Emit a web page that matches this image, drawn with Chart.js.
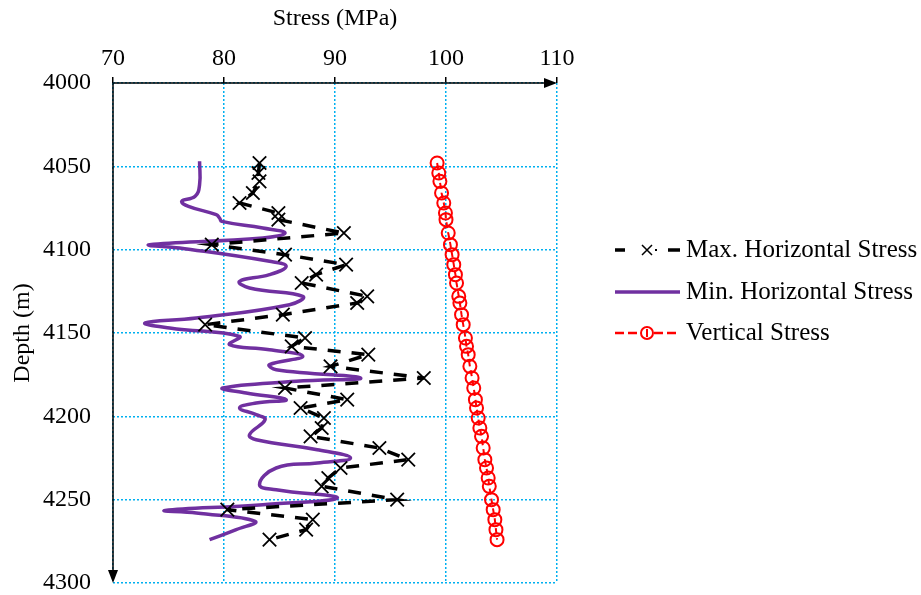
<!DOCTYPE html>
<html>
<head>
<meta charset="utf-8">
<script src="https://cdn.jsdelivr.net/npm/chart.js@4.4.0/dist/chart.umd.min.js"></script>
<style>
html, body { margin: 0; padding: 0; background: #fff; }
</style>
</head>
<body>
<canvas id="stressChart" width="921" height="595"></canvas>
<script>
// ========== DATOS ==========

// Max. horizontal stress (MPa) vs depth (m)
const maxDepth = [4048, 4054, 4059, 4066, 4072, 4078, 4082, 4090, 4097, 4103,
    4109, 4115, 4120, 4128, 4132, 4139, 4145, 4153, 4158, 4163,
    4170, 4177, 4183, 4190, 4195, 4201, 4207, 4212, 4219, 4226,
    4231, 4237, 4242, 4250, 4256, 4262, 4268, 4274];
const maxStress = [83.2, 83.1, 83.2, 82.6, 81.4, 84.9, 84.9, 90.8, 78.9, 85.5,
    91.0, 88.3, 87.0, 92.9, 92.0, 85.3, 78.3, 87.3, 86.1, 93.0,
    89.6, 98.0, 85.5, 91.1, 86.9, 89.0, 88.8, 87.8, 94.0, 96.6,
    90.5, 89.4, 88.8, 95.6, 80.3, 88.0, 87.4, 84.1];

// Min. horizontal stress (traza continua)
const minDepth = [4047, 4061, 4068, 4071, 4074, 4079, 4081, 4083, 4087, 4090,
    4093, 4097, 4099, 4107, 4110, 4115, 4119, 4123, 4128, 4133,
    4141, 4144, 4147, 4152, 4157, 4160, 4164, 4169, 4172, 4177,
    4179, 4183, 4186, 4190, 4192, 4195, 4199, 4202, 4211, 4214,
    4220, 4225, 4228, 4231, 4241, 4244, 4249, 4253, 4256.5, 4258,
    4263, 4268, 4274];
const minStress = [77.8, 77.8, 77.4, 76.2, 76.8, 79.3, 79.6, 79.8, 83.5, 85.5,
    83.5, 73.3, 76.0, 84.1, 85.6, 84.1, 81.4, 82.3, 87.1, 85.9,
    77.5, 72.9, 75.1, 81.4, 80.5, 84.1, 87.1, 84.1, 84.7, 92.3,
    86.5, 79.9, 82.0, 85.6, 82.9, 81.4, 82.9, 83.7, 82.3, 82.9,
    88.4, 91.4, 88.4, 84.7, 83.2, 84.7, 90.2, 83.5, 74.7, 77.5,
    82.8, 81.1, 78.7];

// Vertical stress
const vertDepth = maxDepth;
const vertStress = [99.2, 99.35, 99.45, 99.6, 99.8, 99.95, 100.0, 100.2, 100.4, 100.55,
    100.7, 100.85, 100.95, 101.15, 101.25, 101.4, 101.55, 101.75, 101.85, 102.0,
    102.15, 102.35, 102.5, 102.65, 102.75, 102.9, 103.05, 103.2, 103.35, 103.5,
    103.65, 103.8, 103.9, 104.1, 104.25, 104.4, 104.5, 104.6];

const seriesLabels = ['Max. Horizontal Stress', 'Min. Horizontal Stress', 'Vertical Stress'];

const FONT = 'Liberation Serif';
const GRID_COLOR = '#00B0F0';

function toPoints(xs, ys) {
    return xs.map((x, i) => ({ x: x, y: ys[i] }));
}

// Ejes con flechas
const axisArrows = {
    id: 'axisArrows',
    afterDraw(chart) {
        const ctx = chart.ctx;
        const a = chart.chartArea;
        ctx.save();
        ctx.strokeStyle = '#000';
        ctx.fillStyle = '#000';
        ctx.lineWidth = 1.5;
        ctx.beginPath();
        ctx.moveTo(a.left, a.top);
        ctx.lineTo(a.right - 4, a.top);
        ctx.moveTo(a.left, a.top);
        ctx.lineTo(a.left, a.bottom - 4);
        ctx.stroke();
        // punta derecha
        ctx.beginPath();
        ctx.moveTo(a.right, a.top);
        ctx.lineTo(a.right - 13, a.top - 5);
        ctx.lineTo(a.right - 13, a.top + 5);
        ctx.closePath();
        ctx.fill();
        // punta abajo
        ctx.beginPath();
        ctx.moveTo(a.left, a.bottom);
        ctx.lineTo(a.left - 5, a.bottom - 13);
        ctx.lineTo(a.left + 5, a.bottom - 13);
        ctx.closePath();
        ctx.fill();
        ctx.restore();
    }
};

// Leyenda dibujada a mano
const customLegend = {
    id: 'customLegend',
    afterDraw(chart) {
        const ctx = chart.ctx;
        const x0 = 615, x1 = 680, tx = 686;
        const rows = [250, 292, 333];
        ctx.save();

        // Max
        let y = rows[0];
        ctx.strokeStyle = '#000';
        ctx.lineWidth = 3.5;
        ctx.beginPath();
        ctx.moveTo(x0, y); ctx.lineTo(x0 + 10, y);
        ctx.moveTo(x1 - 12, y); ctx.lineTo(x1, y);
        ctx.stroke();
        ctx.lineWidth = 1.5;
        ctx.beginPath();
        ctx.moveTo(642, y - 5); ctx.lineTo(652, y + 5);
        ctx.moveTo(652, y - 5); ctx.lineTo(642, y + 5);
        ctx.stroke();
        ctx.fillStyle = '#000';
        ctx.fillRect(655, y - 1, 2, 2);

        // Min
        y = rows[1];
        ctx.strokeStyle = '#7030A0';
        ctx.lineWidth = 3.5;
        ctx.beginPath();
        ctx.moveTo(x0, y); ctx.lineTo(x1, y);
        ctx.stroke();

        // Vertical
        y = rows[2];
        ctx.strokeStyle = '#FF0000';
        ctx.lineWidth = 2.5;
        ctx.setLineDash([9, 4]);
        ctx.beginPath();
        ctx.moveTo(x0, y); ctx.lineTo(x1, y);
        ctx.stroke();
        ctx.setLineDash([]);
        ctx.lineWidth = 2;
        ctx.fillStyle = '#fff';
        ctx.beginPath();
        ctx.arc(647, y, 6, 0, Math.PI * 2);
        ctx.fill();
        ctx.stroke();
        ctx.fillStyle = '#FF0000';
        ctx.fillRect(646, y - 4, 2, 8);

        ctx.fillStyle = '#000';
        ctx.font = '25px "' + FONT + '"';
        ctx.textBaseline = 'middle';
        ctx.textAlign = 'left';
        seriesLabels.forEach((txt, i) => ctx.fillText(txt, tx, rows[i]));
        ctx.restore();
    }
};

const ctx = document.getElementById('stressChart').getContext('2d');

const stressChart = new Chart(ctx, {
    type: 'scatter',
    data: {
        datasets: [{
            label: seriesLabels[0],
            data: toPoints(maxStress, maxDepth),
            showLine: true,
            borderColor: '#000',
            borderWidth: 3.5,
            borderDash: [13, 11],
            pointStyle: 'crossRot',
            pointRadius: 9.5,
            pointBorderWidth: 1.8,
            pointBorderColor: '#000',
            pointBackgroundColor: '#000',
            tension: 0
        }, {
            label: seriesLabels[1],
            data: toPoints(minStress, minDepth),
            showLine: true,
            borderColor: '#7030A0',
            borderWidth: 3.5,
            pointRadius: 0,
            tension: 0.45
        }, {
            label: seriesLabels[2],
            data: toPoints(vertStress, vertDepth),
            showLine: true,
            borderColor: '#FF0000',
            borderWidth: 2,
            borderDash: [6, 4],
            pointStyle: 'circle',
            pointRadius: 6.5,
            pointBorderWidth: 2,
            pointBorderColor: '#FF0000',
            pointBackgroundColor: 'rgba(255,255,255,0)',
            tension: 0
        }]
    },
    options: {
        responsive: false,
        animation: false,
        layout: {
            padding: { left: 0, top: 0, right: 364, bottom: 12 }
        },
        plugins: {
            legend: { display: false },
            tooltip: { enabled: false }
        },
        scales: {
            x: {
                type: 'linear',
                position: 'top',
                min: 70,
                max: 110,
                ticks: {
                    stepSize: 10,
                    color: '#000',
                    padding: 6,
                    font: { family: FONT, size: 24, lineHeight: 1 }
                },
                grid: {
                    color: GRID_COLOR,
                    lineWidth: 1.5,
                    tickColor: '#000',
                    tickLength: 6,
                    tickWidth: 1.5
                },
                border: { display: false, dash: [2, 2] },
                title: {
                    display: true,
                    text: 'Stress (MPa)',
                    color: '#000',
                    font: { family: FONT, size: 24, lineHeight: 1.2 },
                    padding: { top: 4, bottom: 0 }
                },
                afterFit: function(scale) {
                    scale.height = 83;
                }
            },
            y: {
                type: 'linear',
                reverse: true,
                min: 4000,
                max: 4300,
                ticks: {
                    stepSize: 50,
                    color: '#000',
                    padding: 0,
                    font: { family: FONT, size: 24, lineHeight: 1 },
                    callback: function(value) {
                        return String(value);
                    }
                },
                grid: {
                    color: GRID_COLOR,
                    lineWidth: 1.5,
                    drawTicks: true,
                    tickLength: 22,
                    tickColor: 'rgba(0,0,0,0)'
                },
                border: { display: false, dash: [2, 2] },
                title: {
                    display: true,
                    text: 'Depth (m)',
                    color: '#000',
                    font: { family: FONT, size: 24, lineHeight: 1.2 },
                    padding: { top: 8, bottom: 0 }
                },
                afterFit: function(scale) {
                    scale.width = 113;
                }
            }
        }
    },
    plugins: [axisArrows, customLegend]
});
</script>
</body>
</html>
